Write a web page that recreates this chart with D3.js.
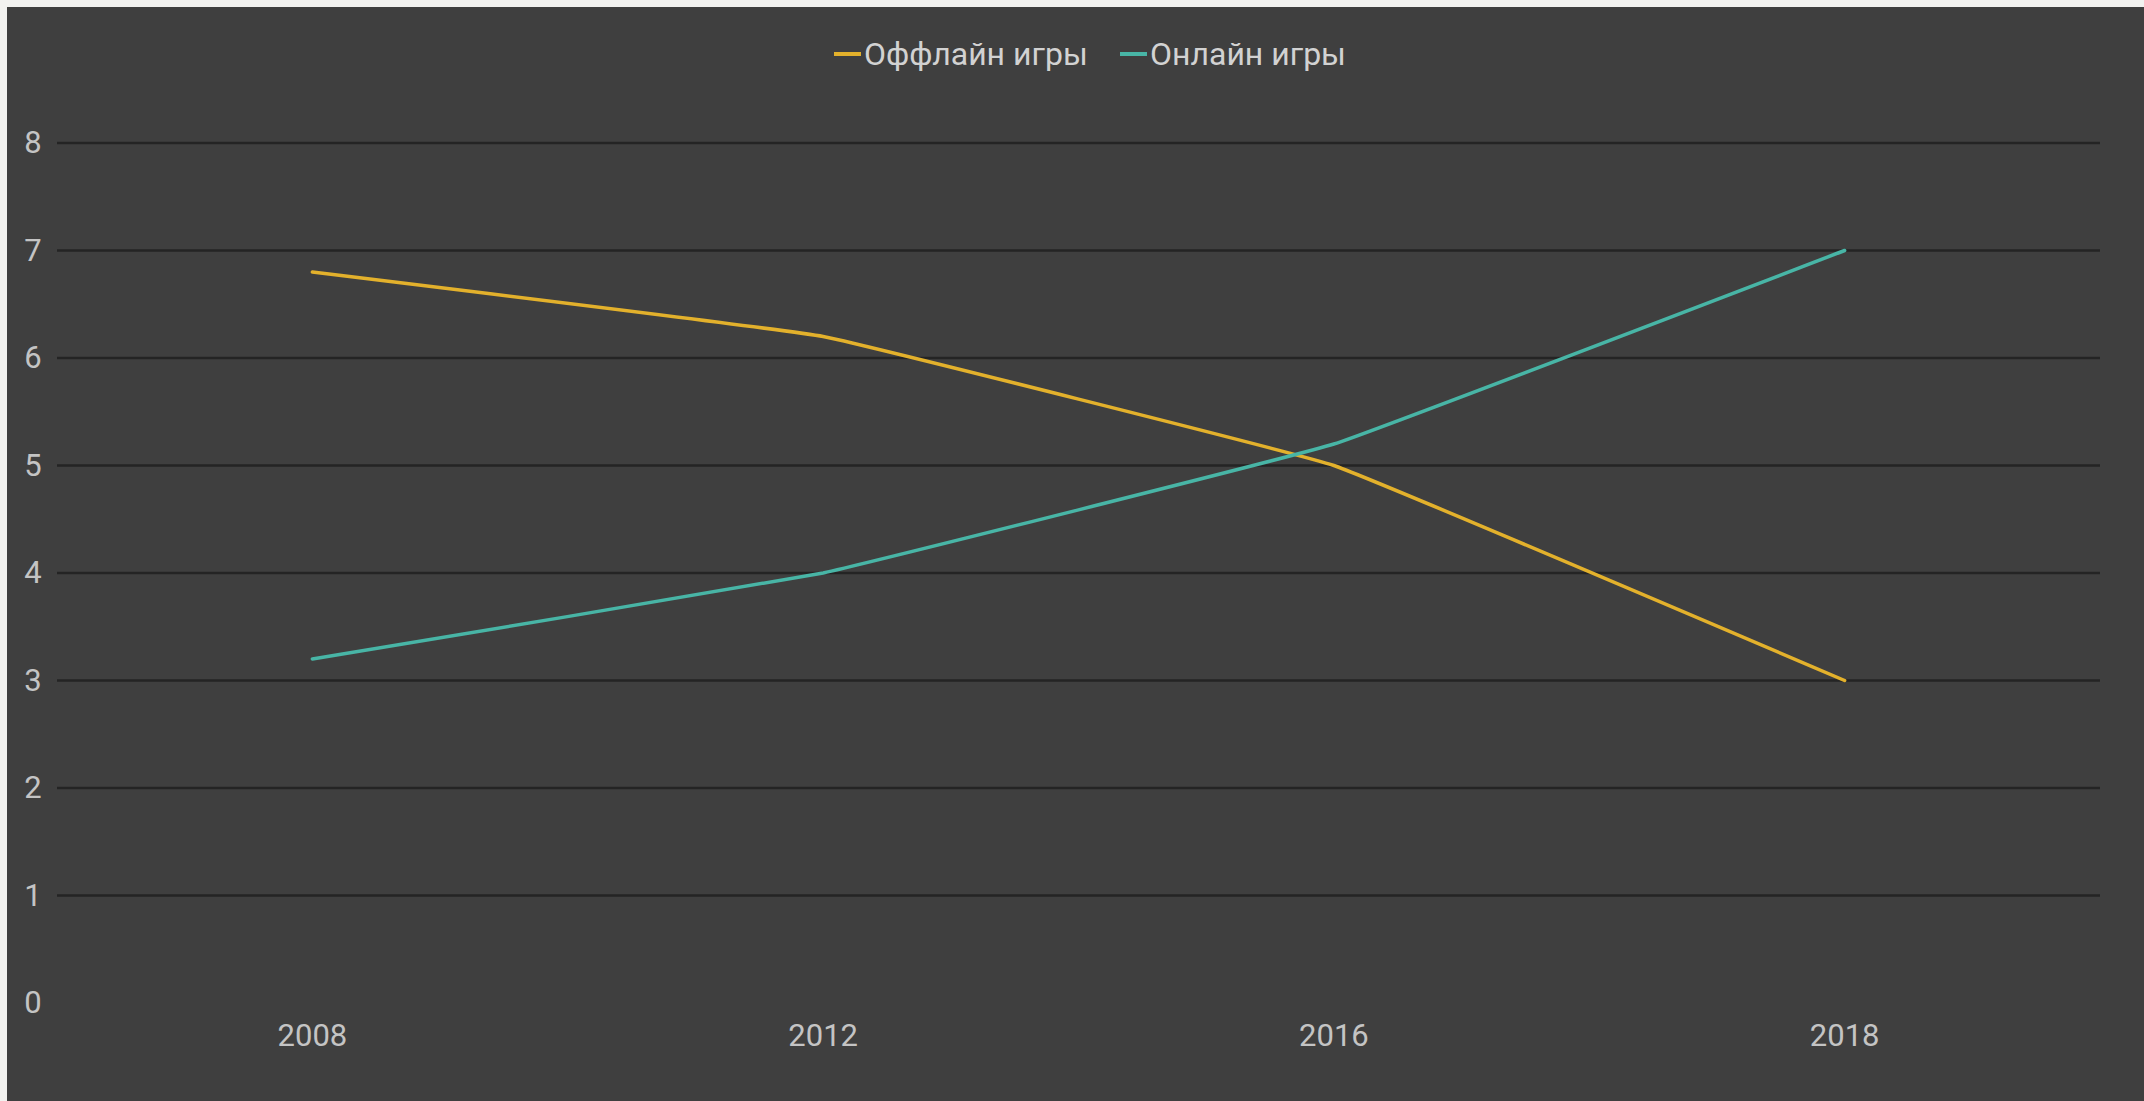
<!DOCTYPE html>
<html>
<head>
<meta charset="utf-8">
<script src="https://cdn.jsdelivr.net/npm/d3@7"></script>
<style>
  html, body { margin: 0; padding: 0; background: #f2f2f0; }
  svg { display: block; }
</style>
</head>
<body>
<svg id="chart"></svg>
<script>
(function(){

  // DATA ////////////////////////////////////////////////////////////////////

  var years = ["2008", "2012", "2016", "2018"];
  var offlineGames = [6.8, 6.2, 5.0, 3.0];
  var onlineGames = [3.2, 4.0, 5.2, 7.0];
  var yTicks = [0, 1, 2, 3, 4, 5, 6, 7, 8];

  var seriesNames = ["Оффлайн игры", "Онлайн игры"];
  var seriesColors = ["#e3b12c", "#48b5a6"];
  var series = [offlineGames, onlineGames];

  // LAYOUT //////////////////////////////////////////////////////////////////

  var width = 2144;
  var height = 1101;
  var margin = { top: 143, right: 44, bottom: 98, left: 57 };
  var font = "Roboto, 'Noto Sans', sans-serif";
  var fontSize = 31;

  var svg = d3.select("#chart").attr("width", width).attr("height", height);

  // dark panel
  svg.append("rect")
    .attr("x", 7).attr("y", 7)
    .attr("width", width - 7).attr("height", height - 7)
    .attr("fill", "#3f3f3f");

  var x = d3.scaleBand()
    .domain(years)
    .range([margin.left, width - margin.right]);

  var y = d3.scaleLinear()
    .domain([0, 8])
    .range([height - margin.bottom, margin.top]);

  // GRID ////////////////////////////////////////////////////////////////////

  svg.append("g")
    .selectAll("line")
    .data(yTicks.filter(function(d){ return d > 0; }))
    .enter()
    .append("line")
    .attr("x1", margin.left)
    .attr("x2", width - margin.right)
    .attr("y1", function(d){ return y(d); })
    .attr("y2", function(d){ return y(d); })
    .attr("stroke", "#242424")
    .attr("stroke-width", 2.5);

  // AXES ////////////////////////////////////////////////////////////////////

  var yAxis = svg.append("g")
    .attr("transform", "translate(" + 44 + ",0)")
    .call(d3.axisLeft(y).tickValues(yTicks).tickSize(0).tickPadding(0));
  yAxis.select(".domain").remove();
  yAxis.selectAll("text")
    .attr("fill", "#c4c4c4")
    .attr("font-family", font)
    .attr("font-size", fontSize)
    .attr("text-anchor", "middle")
    .attr("dx", -11);

  var xAxis = svg.append("g")
    .attr("transform", "translate(0," + (height - margin.bottom) + ")")
    .call(d3.axisBottom(x).tickSize(0).tickPadding(0));
  xAxis.select(".domain").remove();
  xAxis.selectAll("text")
    .attr("fill", "#c4c4c4")
    .attr("font-family", font)
    .attr("font-size", fontSize)
    .attr("y", 32)
    .attr("dy", "0.35em");

  // LINES ///////////////////////////////////////////////////////////////////

  var line = d3.line()
    .x(function(d, i){ return x(years[i]) + x.bandwidth() / 2; })
    .y(function(d){ return y(d); })
    .curve(d3.curveCardinal.tension(0.8));

  svg.append("g")
    .selectAll("path")
    .data(series)
    .enter()
    .append("path")
    .attr("d", function(d){ return line(d); })
    .attr("fill", "none")
    .attr("stroke", function(d, i){ return seriesColors[i]; })
    .attr("stroke-width", 3.5)
    .attr("stroke-linecap", "round")
    .attr("stroke-linejoin", "round");

  // LEGEND //////////////////////////////////////////////////////////////////

  var legend = svg.append("g").attr("transform", "translate(0,54)");
  var legendX = [834, 1120];

  var items = legend.selectAll("g")
    .data(seriesNames)
    .enter()
    .append("g")
    .attr("transform", function(d, i){ return "translate(" + legendX[i] + ",0)"; });

  items.append("line")
    .attr("x1", 0).attr("x2", 27)
    .attr("y1", 0).attr("y2", 0)
    .attr("stroke", function(d, i){ return seriesColors[i]; })
    .attr("stroke-width", 4);

  items.append("text")
    .attr("x", 30)
    .attr("dy", "0.35em")
    .attr("fill", "#d2d2d2")
    .attr("font-family", font)
    .attr("font-size", 32)
    .text(function(d){ return d; });

})();
</script>
</body>
</html>
